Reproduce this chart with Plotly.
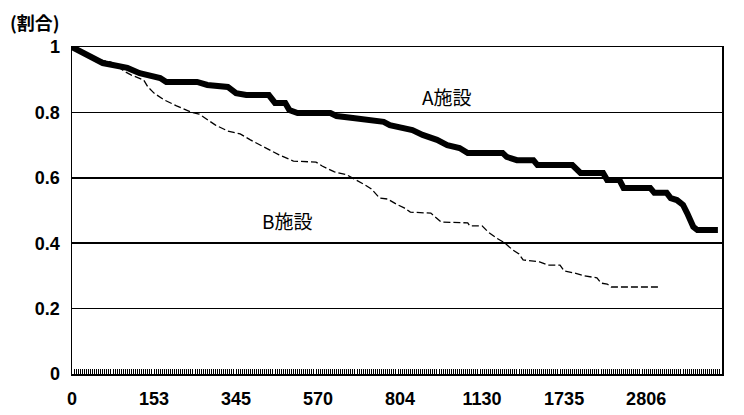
import plotly.graph_objects as go

# category labels shown on the x axis (every 40th event-time category)
x_labels = ["0", "153", "345", "570", "804", "1130", "1735", "2806"]
n_categories = 318
label_step = 40

# A facility: (category index, survival ratio)
a_idx = [0, 7, 15, 27, 33, 43, 46, 61, 66, 76, 80, 85, 96, 99, 104, 106, 110, 126, 129, 137,
         149, 152, 155, 161, 166, 171, 178, 183, 189, 193, 210, 212, 217, 225, 227, 244, 248,
         259, 261, 267, 269, 282, 284, 290, 292, 295, 298, 300, 303, 305, 315]
a_val = [1.000, 0.976, 0.951, 0.936, 0.920, 0.905, 0.893, 0.893, 0.884, 0.878, 0.859, 0.853,
         0.853, 0.829, 0.829, 0.807, 0.798, 0.798, 0.789, 0.783, 0.777, 0.771, 0.761, 0.755,
         0.746, 0.731, 0.716, 0.700, 0.691, 0.676, 0.676, 0.664, 0.654, 0.654, 0.639, 0.639,
         0.615, 0.615, 0.593, 0.593, 0.569, 0.569, 0.554, 0.554, 0.538, 0.532, 0.517, 0.492,
         0.450, 0.440, 0.440]

# B facility
b_idx = [0, 7, 14, 19, 26, 29, 35, 37, 40, 45, 51, 58, 62, 66, 70, 76, 82, 87, 92, 97, 101,
         108, 119, 122, 128, 134, 139, 143, 146, 150, 154, 158, 162, 165, 175, 178, 180, 193,
         194, 200, 203, 207, 211, 215, 218, 220, 228, 232, 238, 240, 245, 250, 256, 258, 261,
         263, 287]
b_val = [1.000, 0.976, 0.960, 0.954, 0.924, 0.914, 0.899, 0.878, 0.859, 0.838, 0.820, 0.801,
         0.795, 0.777, 0.761, 0.743, 0.734, 0.716, 0.700, 0.685, 0.670, 0.651, 0.648, 0.636,
         0.618, 0.609, 0.593, 0.578, 0.566, 0.538, 0.535, 0.520, 0.508, 0.495, 0.492, 0.477,
         0.465, 0.462, 0.453, 0.453, 0.434, 0.416, 0.401, 0.379, 0.367, 0.349, 0.343, 0.333,
         0.333, 0.315, 0.309, 0.300, 0.294, 0.278, 0.275, 0.266, 0.266]

y_ticks = [0, 0.2, 0.4, 0.6, 0.8, 1]
y_labels = ["0", "0.2", "0.4", "0.6", "0.8", "1"]

FONT = "Liberation Sans, Arial, sans-serif"
CJK = "Noto Sans CJK JP, sans-serif"

fig = go.Figure()
fig.add_trace(go.Scatter(x=b_idx, y=b_val, mode="lines",
                         line=dict(color="black", width=1.3, dash="7px,3px"),
                         showlegend=False, hoverinfo="skip"))
fig.add_trace(go.Scatter(x=a_idx, y=a_val, mode="lines",
                         line=dict(color="black", width=6),
                         showlegend=False, hoverinfo="skip"))

fig.update_layout(
    width=744, height=415,
    margin=dict(l=72, r=22, t=47, b=41, autoexpand=False),
    paper_bgcolor="white", plot_bgcolor="white",
    font=dict(family=FONT, color="black", size=18),
    xaxis=dict(
        range=[0, n_categories - 1],
        tickmode="array",
        tickvals=[i * label_step for i in range(len(x_labels))],
        ticktext=x_labels,
        ticks="inside", ticklen=5, tickcolor="black", tickwidth=1,
        minor=dict(ticks="inside", dtick=1, ticklen=5, tickcolor="black", tickwidth=1),
        showgrid=False, zeroline=False,
        showline=True, linecolor="black", linewidth=1.5, mirror=True,
        ticklabelstandoff=8,
        tickfont=dict(family=FONT, size=18, color="black", weight="bold"),
        automargin=False,
    ),
    yaxis=dict(
        range=[0, 1],
        tickmode="array", tickvals=y_ticks, ticktext=y_labels,
        ticks="", showgrid=True, gridcolor="black", gridwidth=1.5,
        zeroline=False,
        showline=True, linecolor="black", linewidth=1.5, mirror=True,
        ticklabelstandoff=7,
        tickfont=dict(family=FONT, size=18, color="black", weight="bold"),
        automargin=False,
    ),
    annotations=[
        dict(x=183, y=0.850, xref="x", yref="y", text="A施設", showarrow=False,
             font=dict(family=CJK, size=19, color="black")),
        dict(x=105, y=0.468, xref="x", yref="y", text="B施設", showarrow=False,
             font=dict(family=CJK, size=19, color="black")),
        dict(x=(35 - 72) / 650, y=1 + (47 - 22) / 327, xref="paper", yref="paper",
             text="(割合)", showarrow=False, xanchor="center", yanchor="middle",
             font=dict(family=CJK, size=18, color="black", weight="bold")),
    ],
)

fig.write_html("out.html",
               config={"displayModeBar": False, "staticPlot": True},
               post_script="document.body.style.margin='0';document.body.style.overflow='hidden';")
